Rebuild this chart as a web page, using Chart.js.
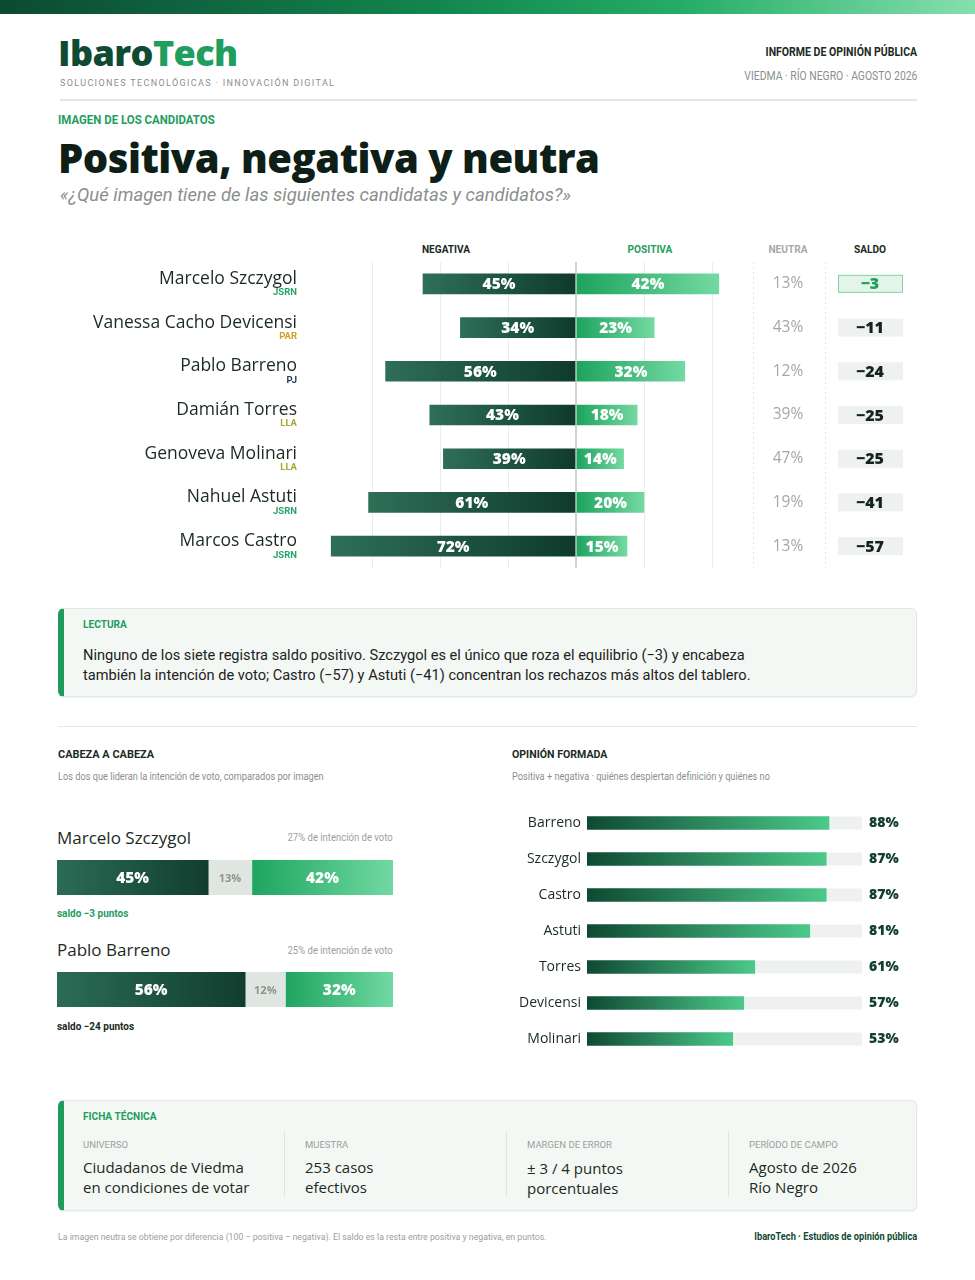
<!DOCTYPE html>
<html lang="es">
<head>
<meta charset="utf-8">
<script src="https://cdn.jsdelivr.net/npm/chart.js@4.4.1/dist/chart.umd.min.js"></script>
<style>
  body { margin:0; width:975px; height:1280px; position:relative; background:#fff; overflow:hidden;
         font-family: "Roboto", sans-serif; color:#1b2a22; }
  .a { position:absolute; white-space:nowrap; }
  .l { transform-origin: left center; }
  .r { transform-origin: right center; }
  .geo { font-family: "Open Sans", sans-serif; }
  .topbar { left:0; top:0; width:975px; height:14px; background:linear-gradient(90deg,#0c4a31 0%,#13864f 45%,#25ad66 70%,#86dfae 100%); }
  .box { background:#f4f8f5; border:1px solid #e2e8e4; border-left:6px solid #1f9c5c; border-radius:6px; box-shadow:0 1px 2px rgba(0,0,0,0.05); }
  canvas { position:absolute; }
</style>
</head>
<body>
<div class="a topbar"></div>

<div class="a geo" style="left:58px;top:29px;font-size:36px;font-weight:800;letter-spacing:-0.6px;line-height:48px"><span style="color:#0f4a33">Ibaro</span><span style="color:#1f9e5e">Tech</span></div>
<div class="a" style="left:60px;top:78px;font-size:9px;letter-spacing:1.35px;color:#8a8f8c">SOLUCIONES TECNOLÓGICAS · INNOVACIÓN DIGITAL</div>
<div class="a r" style="right:58px;top:44px;font-size:13px;font-weight:bold;color:#1b2a22;transform:scaleX(0.81)">INFORME DE OPINIÓN PÚBLICA</div>
<div class="a r" style="right:58px;top:68px;font-size:13px;color:#8a8f8c;transform:scaleX(0.8)">VIEDMA · RÍO NEGRO · AGOSTO 2026</div>
<div class="a" style="left:60px;top:99px;width:857px;height:2px;background:#e4e6e5"></div>

<div class="a l" style="left:58px;top:112px;font-size:13px;font-weight:bold;color:#1f9e5e;transform:scaleX(0.88)">IMAGEN DE LOS CANDIDATOS</div>
<div class="a geo" style="left:58px;top:130px;font-size:40px;font-weight:800;letter-spacing:-0.5px;color:#0d1f17;line-height:56px">Positiva, negativa y neutra</div>
<div class="a" style="left:60px;top:184px;font-size:18.5px;font-style:italic;color:#8a8f8c">«¿Qué imagen tiene de las siguientes candidatas y candidatos?»</div>

<div class="a" style="left:446px;top:243px;font-size:11px;font-weight:bold;transform:translateX(-50%) scaleX(0.92)">NEGATIVA</div>
<div class="a" style="left:650px;top:243px;font-size:11px;font-weight:bold;color:#1f9e5e;transform:translateX(-50%) scaleX(0.92)">POSITIVA</div>
<div class="a" style="left:788px;top:243px;font-size:11px;font-weight:bold;color:#a5aaa7;transform:translateX(-50%) scaleX(0.92)">NEUTRA</div>
<div class="a" style="left:870px;top:243px;font-size:11px;font-weight:bold;transform:translateX(-50%) scaleX(0.92)">SALDO</div>

<canvas id="imagen" width="975" height="340" style="left:0;top:235px"></canvas>

<div class="a box" style="left:58px;top:608px;width:852px;height:87px"></div>
<div class="a l" style="left:83px;top:618px;font-size:11px;font-weight:bold;color:#1f9e5e;transform:scaleX(0.92)">LECTURA</div>
<div class="a" style="left:83px;top:645px;font-size:14.6px;line-height:20px;color:#222">Ninguno de los siete registra saldo positivo. Szczygol es el único que roza el equilibrio (−3) y encabeza<br>también la intención de voto; Castro (−57) y Astuti (−41) concentran los rechazos más altos del tablero.</div>

<div class="a" style="left:58px;top:726px;width:859px;height:1px;background:#e4e6e5"></div>

<div class="a l" style="left:58px;top:747px;font-size:11.5px;font-weight:bold;transform:scaleX(0.95)">CABEZA A CABEZA</div>
<div class="a l" style="left:58px;top:771px;font-size:10px;color:#8a8f8c;transform:scaleX(0.92)">Los dos que lideran la intención de voto, comparados por imagen</div>
<div class="a geo" style="left:57px;top:826px;font-size:17px;color:#1b2a22">Marcelo Szczygol</div>
<div class="a r" style="right:582px;top:832px;font-size:10px;color:#9a9f9c;transform:scaleX(0.95)">27% de intención de voto</div>
<canvas id="h2h0" width="336" height="35" style="left:57px;top:860px"></canvas>
<div class="a l" style="left:57px;top:907px;font-size:10.5px;font-weight:bold;color:#1f9e5e;transform:scaleX(0.95)">saldo −3 puntos</div>
<div class="a geo" style="left:57px;top:938px;font-size:17px;color:#1b2a22">Pablo Barreno</div>
<div class="a r" style="right:582px;top:945px;font-size:10px;color:#9a9f9c;transform:scaleX(0.95)">25% de intención de voto</div>
<canvas id="h2h1" width="336" height="35" style="left:57px;top:972px"></canvas>
<div class="a l" style="left:57px;top:1020px;font-size:10.5px;font-weight:bold;color:#1b2a22;transform:scaleX(0.95)">saldo −24 puntos</div>

<div class="a l" style="left:512px;top:747px;font-size:11.5px;font-weight:bold;transform:scaleX(0.92)">OPINIÓN FORMADA</div>
<div class="a l" style="left:512px;top:771px;font-size:10px;color:#8a8f8c;transform:scaleX(0.92)">Positiva + negativa · quiénes despiertan definición y quiénes no</div>
<canvas id="opinion" width="440" height="252" style="left:490px;top:805px"></canvas>

<div class="a box" style="left:58px;top:1100px;width:852px;height:109px"></div>
<div class="a l" style="left:83px;top:1110px;font-size:11px;font-weight:bold;color:#1f9e5e;transform:scaleX(0.92)">FICHA TÉCNICA</div>
<div class="a" style="left:284px;top:1131px;width:1px;height:66px;background:#dfe4e1"></div>
<div class="a" style="left:506px;top:1131px;width:1px;height:66px;background:#dfe4e1"></div>
<div class="a" style="left:728px;top:1131px;width:1px;height:66px;background:#dfe4e1"></div>
<div class="a" style="left:83px;top:1139px;font-size:9.5px;color:#9a9f9c">UNIVERSO</div>
<div class="a" style="left:305px;top:1139px;font-size:9.5px;color:#9a9f9c">MUESTRA</div>
<div class="a" style="left:527px;top:1139px;font-size:9.5px;color:#9a9f9c">MARGEN DE ERROR</div>
<div class="a" style="left:749px;top:1139px;font-size:9.5px;color:#9a9f9c">PERÍODO DE CAMPO</div>
<div class="a geo" style="left:83px;top:1157px;font-size:15px;line-height:20px">Ciudadanos de Viedma<br>en condiciones de votar</div>
<div class="a geo" style="left:305px;top:1157px;font-size:15px;line-height:20px">253 casos<br>efectivos</div>
<div class="a geo" style="left:527px;top:1158px;font-size:15px;line-height:20px">± 3 / 4 puntos<br>porcentuales</div>
<div class="a geo" style="left:749px;top:1157px;font-size:15px;line-height:20px">Agosto de 2026<br>Río Negro</div>

<div class="a l" style="left:58px;top:1231px;font-size:9.5px;color:#9a9f9c;transform:scaleX(0.92)">La imagen neutra se obtiene por diferencia (100 − positiva − negativa). El saldo es la resta entre positiva y negativa, en puntos.</div>
<div class="a r" style="right:58px;top:1230px;font-size:10.5px;font-weight:bold;color:#0f4a33;transform:scaleX(0.88)">IbaroTech · Estudios de opinión pública</div>

<script>
// imagen de los candidatos
const candidatos = ['Marcelo Szczygol', 'Vanessa Cacho Devicensi', 'Pablo Barreno', 'Damián Torres', 'Genoveva Molinari', 'Nahuel Astuti', 'Marcos Castro'];
const partidos = ['JSRN', 'PAR', 'PJ', 'LLA', 'LLA', 'JSRN', 'JSRN'];
const negativa = [45, 34, 56, 43, 39, 61, 72];
const positiva = [42, 23, 32, 18, 14, 20, 15];
const neutra = [13, 43, 12, 39, 47, 19, 13];
const saldo = [-3, -11, -24, -25, -25, -41, -57];
const gridTicks = [-60, -40, -20, 0, 20, 40];

// cabeza a cabeza
const h2hNombres = ['Marcelo Szczygol', 'Pablo Barreno'];
const h2hNegativa = [45, 56];
const h2hNeutra = [13, 12];
const h2hPositiva = [42, 32];

// opinion formada
const opinionNombres = ['Barreno', 'Szczygol', 'Castro', 'Astuti', 'Torres', 'Devicensi', 'Molinari'];
const opinionFormada = [88, 87, 87, 81, 61, 57, 53];

const partyColors = { JSRN: '#2aa36b', PAR: '#c9a227', PJ: '#1d3a5a', LLA: '#a8a82a' };
const GEO = '"Open Sans", sans-serif';

function hGrad(chart, x0, x1, c0, c1) {
  const g = chart.ctx.createLinearGradient(x0, 0, x1, 0);
  g.addColorStop(0, c0);
  g.addColorStop(1, c1);
  return g;
}

function negColor(ctx) {
  const chart = ctx.chart;
  if (!chart.chartArea) return '#1f5a45';
  const x = chart.scales.x;
  return hGrad(chart, x.getPixelForValue(ctx.raw), x.getPixelForValue(0), '#2e6f58', '#0f3a2b');
}
function posColor(ctx) {
  const chart = ctx.chart;
  if (!chart.chartArea) return '#3bbf7a';
  const x = chart.scales.x;
  return hGrad(chart, x.getPixelForValue(0), x.getPixelForValue(ctx.raw), '#1da35e', '#74d9a2');
}

// etiquetas dentro de las barras
const barLabels = {
  id: 'barLabels',
  afterDatasetsDraw(chart) {
    const ctx = chart.ctx;
    ctx.save();
    ctx.textAlign = 'center';
    ctx.textBaseline = 'middle';
    chart.data.datasets.forEach((ds, di) => {
      chart.getDatasetMeta(di).data.forEach((el, i) => {
        const v = Math.abs(ds.data[i]);
        ctx.fillStyle = ds.labelColor || '#fff';
        ctx.font = ds.labelFont || ('800 15.5px ' + GEO);
        ctx.fillText(v + '%', (el.x + el.base) / 2, el.y + 1);
      });
    });
    ctx.restore();
  }
};

const imagenCols = {
  id: 'imagenCols',
  afterDraw(chart) {
    const ctx = chart.ctx;
    const y = chart.scales.y;
    const area = chart.chartArea;
    ctx.save();
    ctx.strokeStyle = '#e3e6e4';
    ctx.setLineDash([2, 3]);
    [753, 825].forEach(x => {
      ctx.beginPath();
      ctx.moveTo(x + 0.5, area.top);
      ctx.lineTo(x + 0.5, area.bottom);
      ctx.stroke();
    });
    ctx.setLineDash([]);
    candidatos.forEach((name, i) => {
      const cy = y.getPixelForValue(i);
      ctx.textBaseline = 'middle';
      ctx.textAlign = 'right';
      ctx.fillStyle = '#1b2a22';
      ctx.font = '17.5px ' + GEO;
      ctx.fillText(name, 297, cy - 5);
      ctx.fillStyle = partyColors[partidos[i]];
      ctx.font = 'bold 9.5px Roboto, sans-serif';
      ctx.fillText(partidos[i], 297, cy + 9);

      ctx.textAlign = 'center';
      ctx.fillStyle = '#a3a8a5';
      ctx.font = '15.5px ' + GEO;
      ctx.fillText(neutra[i] + '%', 788, cy);

      const hi = i === 0;
      ctx.fillStyle = hi ? '#e3f5e9' : '#eef1ef';
      ctx.fillRect(838, cy - 9, 65, 18);
      if (hi) {
        ctx.strokeStyle = '#86d3a5';
        ctx.lineWidth = 1;
        ctx.strokeRect(838.5, cy - 8.5, 64, 17);
      }
      ctx.fillStyle = hi ? '#1f9e5e' : '#14241c';
      ctx.font = '800 16px ' + GEO;
      ctx.fillText('−' + Math.abs(saldo[i]), 870, cy + 1);
    });
    ctx.restore();
  }
};

new Chart(document.getElementById('imagen'), {
  type: 'bar',
  data: {
    labels: candidatos,
    datasets: [
      { label: 'Negativa', data: negativa.map(v => -v), backgroundColor: negColor, barThickness: 20 },
      { label: 'Positiva', data: positiva, backgroundColor: posColor, barThickness: 20 }
    ]
  },
  options: {
    indexAxis: 'y',
    responsive: false,
    animation: false,
    layout: { padding: { left: 321, right: 246, top: 27, bottom: 7 } },
    plugins: { legend: { display: false }, tooltip: { enabled: false } },
    scales: {
      x: {
        stacked: true, min: -75, max: 45,
        afterBuildTicks: s => { s.ticks = gridTicks.map(v => ({ value: v })); },
        ticks: { display: false },
        border: { display: false },
        grid: {
          drawTicks: false,
          color: c => c.tick && c.tick.value === 0 ? '#cfd4d1' : '#eceeed',
          lineWidth: c => c.tick && c.tick.value === 0 ? 2 : 1
        }
      },
      y: { stacked: true, display: false }
    }
  },
  plugins: [barLabels, imagenCols]
});

// cabeza a cabeza
h2hNombres.forEach((n, k) => {
  new Chart(document.getElementById('h2h' + k), {
    type: 'bar',
    data: {
      labels: [n],
      datasets: [
        { data: [h2hNegativa[k]], backgroundColor: c => c.chart.chartArea ? hGrad(c.chart, c.chart.scales.x.getPixelForValue(0), c.chart.scales.x.getPixelForValue(h2hNegativa[k]), '#2b6c56', '#113d2f') : '#1f5a45' },
        { data: [h2hNeutra[k]], backgroundColor: '#dfe5e1', labelColor: '#8d938f', labelFont: 'bold 11px ' + GEO },
        { data: [h2hPositiva[k]], backgroundColor: c => c.chart.chartArea ? hGrad(c.chart, c.chart.scales.x.getPixelForValue(h2hNegativa[k] + h2hNeutra[k]), c.chart.scales.x.getPixelForValue(100), '#1ea55f', '#71d9a2') : '#3bbf7a' }
      ]
    },
    options: {
      indexAxis: 'y',
      responsive: false,
      animation: false,
      datasets: { bar: { barPercentage: 1, categoryPercentage: 1 } },
      layout: { padding: 0 },
      plugins: { legend: { display: false }, tooltip: { enabled: false } },
      scales: {
        x: { stacked: true, min: 0, max: 100, display: false },
        y: { stacked: true, display: false }
      }
    },
    plugins: [barLabels]
  });
});

// opinion formada
const opinionDecor = {
  id: 'opinionDecor',
  beforeDatasetsDraw(chart) {
    const ctx = chart.ctx;
    const a = chart.chartArea;
    ctx.save();
    ctx.fillStyle = '#eef1ef';
    chart.getDatasetMeta(0).data.forEach(el => {
      ctx.fillRect(a.left, el.y - el.height / 2, a.right - a.left, el.height);
    });
    ctx.restore();
  },
  afterDatasetsDraw(chart) {
    const ctx = chart.ctx;
    const y = chart.scales.y;
    ctx.save();
    ctx.textBaseline = 'middle';
    opinionNombres.forEach((n, i) => {
      const cy = y.getPixelForValue(i);
      ctx.textAlign = 'right';
      ctx.fillStyle = '#1b2a22';
      ctx.font = '14px ' + GEO;
      ctx.fillText(n, 91, cy);
      ctx.textAlign = 'left';
      ctx.fillStyle = '#12402e';
      ctx.font = '800 14px ' + GEO;
      ctx.fillText(opinionFormada[i] + '%', 379, cy);
    });
    ctx.restore();
  }
};

new Chart(document.getElementById('opinion'), {
  type: 'bar',
  data: {
    labels: opinionNombres,
    datasets: [{
      data: opinionFormada,
      barThickness: 13,
      backgroundColor: c => {
        const ch = c.chart;
        if (!ch.chartArea) return '#2a8a5c';
        const x = ch.scales.x;
        return hGrad(ch, x.getPixelForValue(0), x.getPixelForValue(c.raw), '#0f4a33', '#4cc98a');
      }
    }]
  },
  options: {
    indexAxis: 'y',
    responsive: false,
    animation: false,
    layout: { padding: { left: 97, right: 68, top: 0, bottom: 0 } },
    plugins: { legend: { display: false }, tooltip: { enabled: false } },
    scales: {
      x: { min: 0, max: 100, display: false },
      y: { display: false }
    }
  },
  plugins: [opinionDecor]
});
</script>
</body>
</html>
